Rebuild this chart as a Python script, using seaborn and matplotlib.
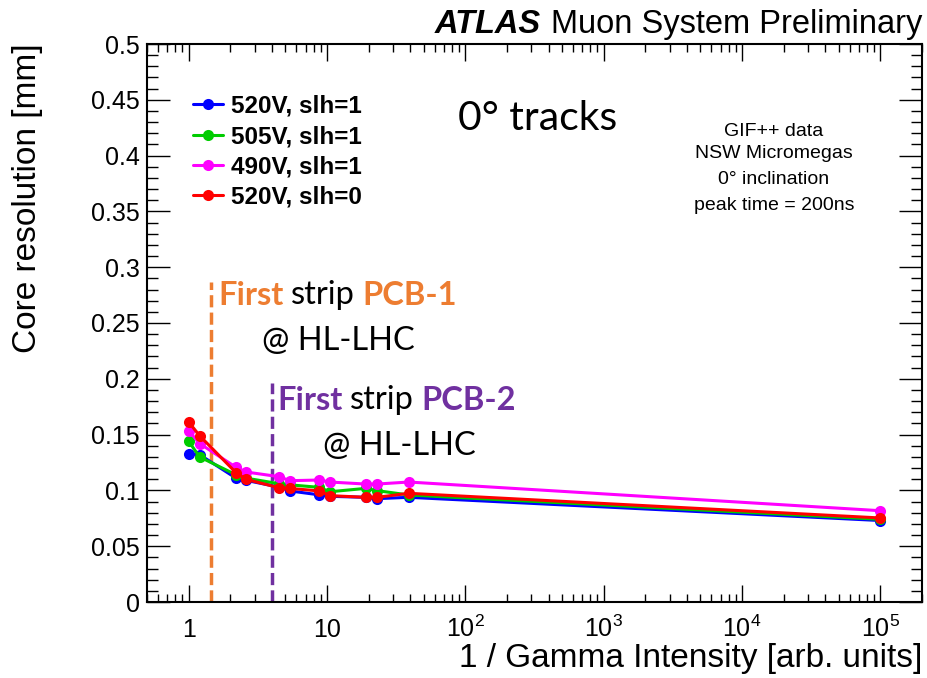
import numpy as np
import pandas as pd
import matplotlib
matplotlib.use("Agg")
import matplotlib.pyplot as plt
import seaborn as sns
from matplotlib.lines import Line2D
from matplotlib.ticker import FixedLocator, FixedFormatter, LogLocator, MultipleLocator, NullFormatter

# Inverse gamma intensity (attenuation setting) for each scan point
inv_intensity = [1, 1.2, 2.2, 2.6, 4.5, 5.4, 8.8, 10.5, 19, 23, 39, 1e5]

# Core resolution [mm] per high-voltage / slh configuration
res_520_slh1 = [0.133, 0.132, 0.111, 0.109, 0.103, 0.0995, 0.096, 0.0947, 0.0938, 0.0926, 0.0938, 0.073]
res_505_slh1 = [0.144, 0.130, 0.114, 0.111, 0.106, 0.105, 0.1027, 0.0988, 0.1018, 0.0998, 0.0959, 0.0741]
res_490_slh1 = [0.1535, 0.142, 0.1207, 0.1165, 0.1123, 0.1087, 0.1093, 0.1075, 0.1057, 0.1057, 0.1075, 0.0818]
res_520_slh0 = [0.1613, 0.149, 0.1159, 0.1099, 0.1024, 0.1018, 0.0995, 0.0953, 0.0938, 0.0938, 0.0974, 0.0753]

series_labels = ["520V, slh=1", "505V, slh=1", "490V, slh=1", "520V, slh=0"]
series_colors = ["#0000ff", "#00cc00", "#ff00ff", "#ff0000"]

# Expected HL-LHC rate on the first strip of each PCB
pcb_names = ["PCB-1", "PCB-2"]
pcb_inv_intensity = [1.45, 4.0]
pcb_line_top = [0.287, 0.196]
pcb_colors = ["#ED7D31", "#7030A0"]

xtick_values = [1, 10, 1e2, 1e3, 1e4, 1e5]
xtick_labels = ["1", "10", r"$\mathregular{10^{2}}$", r"$\mathregular{10^{3}}$",
                r"$\mathregular{10^{4}}$", r"$\mathregular{10^{5}}$"]
ytick_values = [0, 0.05, 0.1, 0.15, 0.2, 0.25, 0.3, 0.35, 0.4, 0.45, 0.5]
ytick_labels = ["0", "0.05", "0.1", "0.15", "0.2", "0.25", "0.3", "0.35", "0.4", "0.45", "0.5"]

sns.set_theme(style="ticks")
plt.rcParams["font.family"] = ["Liberation Sans", "DejaVu Sans"]
plt.rcParams["mathtext.fontset"] = "custom"
plt.rcParams["mathtext.rm"] = "Liberation Sans"
plt.rcParams["mathtext.it"] = "Liberation Sans:italic"
plt.rcParams["mathtext.bf"] = "Liberation Sans:bold"
for key in ["text.color", "axes.labelcolor", "xtick.color", "ytick.color",
            "xtick.labelcolor", "ytick.labelcolor", "axes.edgecolor"]:
    plt.rcParams[key] = "black"

W, H = 928, 678
def fx(px):
    return px / W
def fy(py):
    return 1 - py / H

df = pd.DataFrame({
    "x": inv_intensity * len(series_labels),
    "y": res_520_slh1 + res_505_slh1 + res_490_slh1 + res_520_slh0,
    "series": np.repeat(series_labels, len(inv_intensity)),
})

fig = plt.figure(figsize=(W / 100, H / 100), dpi=100)
fig.patch.set_facecolor("white")
ax = fig.add_axes([fx(147), fy(602), (922 - 147) / W, (602 - 44) / H])
ax.set_facecolor("white")

sns.lineplot(data=df, x="x", y="y", hue="series", hue_order=series_labels,
             palette=series_colors, marker="o", markersize=8, markeredgewidth=0,
             linewidth=2.2, sort=False, estimator=None, legend=False, ax=ax)

ax.vlines(pcb_inv_intensity, 0, pcb_line_top, colors=pcb_colors,
          linestyles=[(0, (3.5, 1.5))], linewidth=2.5, zorder=1)

ax.set_xscale("log")
ax.set_xlim(0.5, 2e5)
ax.set_ylim(0, 0.5)
ax.set_xlabel("")
ax.set_ylabel("")

ax.xaxis.set_major_locator(FixedLocator(xtick_values))
ax.xaxis.set_major_formatter(FixedFormatter(xtick_labels))
ax.xaxis.set_minor_locator(LogLocator(base=10, subs=range(2, 10), numticks=30))
ax.xaxis.set_minor_formatter(NullFormatter())
ax.yaxis.set_major_locator(FixedLocator(ytick_values))
ax.yaxis.set_major_formatter(FixedFormatter(ytick_labels))
ax.yaxis.set_minor_locator(MultipleLocator(0.01))

ax.tick_params(which="both", direction="in", top=True, right=True, color="black",
               labelcolor="black", width=1)
ax.tick_params(axis="x", which="major", length=12, pad=25, labelsize=18)
ax.tick_params(axis="x", which="minor", length=6)
ax.tick_params(axis="y", which="major", length=16.5, pad=5, labelsize=18)
ax.tick_params(axis="y", which="minor", length=8)
for lab in ax.get_xticklabels():
    lab.set_verticalalignment("baseline")
for sp in ax.spines.values():
    sp.set_linewidth(1.5)
    sp.set_color("black")

# Legend
handles = [Line2D([], [], color=c, marker="o", markersize=8, markeredgewidth=0, linewidth=2.2)
           for c in series_colors]
leg = ax.legend(handles, series_labels, loc="upper left",
                bbox_to_anchor=((193 - 147) / 775, (602 - 95) / 558),
                frameon=False, prop={"weight": "bold", "size": 17.5},
                handlelength=1.25, handletextpad=0.3, labelspacing=0.3,
                borderpad=0, borderaxespad=0)
for t in leg.get_texts():
    t.set_color("black")

# Header
t_head = fig.text(fx(922), fy(33), "Muon System Preliminary", fontsize=23.5,
                  ha="right", va="baseline", color="black")
ax.annotate("ATLAS", xy=(0, 0), xycoords=t_head, xytext=(-7, 0), textcoords="offset points",
            ha="right", va="bottom", fontsize=23.5, weight="bold", style="italic",
            color="black", annotation_clip=False)

# Axis titles
fig.text(fx(28), fy(43), "Core resolution [mm]", rotation=90, ha="center", va="top",
         fontsize=24, color="black")
fig.text(fx(922), fy(667), "1 / Gamma Intensity [arb. units]", ha="right", va="baseline",
         fontsize=24, color="black")

# Info block
fig.text(fx(458), fy(130), "0° tracks", family=["Lato", "DejaVu Sans"], fontsize=29.5,
         va="baseline", color="black")
for txt, yc in zip(["GIF++ data", "NSW Micromegas", "0° inclination", "peak time = 200ns"],
                   [131, 154, 179, 205]):
    fig.text(fx(774), fy(yc), txt, ha="center", va="center", fontsize=14, color="black")

# PCB annotations
ann_font = ["Lato", "DejaVu Sans"]
ann_size = 23.5
for name, col, (x0, y0), (x1, y1) in zip(pcb_names, pcb_colors,
                                         [(218, 305), (277, 410)],
                                         [(262, 350), (323, 455)]):
    t1 = fig.text(fx(x0), fy(y0), "First", color=col, weight="bold", family=ann_font,
                  fontsize=ann_size, va="baseline")
    t2 = ax.annotate("strip", xy=(1, 0), xycoords=t1, xytext=(5.5, 0), textcoords="offset points",
                     va="bottom", ha="left", color="black", family=ann_font, fontsize=ann_size,
                     annotation_clip=False)
    ax.annotate(name, xy=(1, 0), xycoords=t2, xytext=(5.5, 0), textcoords="offset points",
                va="bottom", ha="left", color=col, weight="bold", family=ann_font,
                fontsize=ann_size, annotation_clip=False)
    fig.text(fx(x1), fy(y1), "@ HL-LHC", color="black", family=ann_font,
             fontsize=ann_size, va="baseline")

fig.savefig("out.png", dpi=100, facecolor="white")
